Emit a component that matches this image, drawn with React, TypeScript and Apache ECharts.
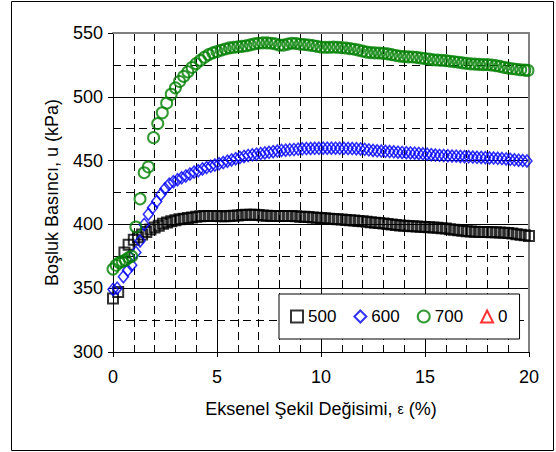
import React, { useEffect, useRef } from "react";
import * as echarts from "echarts";

// ---- Series 500 (kPa) ----
const strain500 = [
  0, 0.25, 0.55, 0.75, 1.0, 1.2, 1.4, 1.6, 1.8, 2.0, 2.2, 2.4, 2.6, 2.8, 3.0, 3.2, 3.4, 3.6, 3.8, 4.0,
  4.2, 4.4, 4.6, 4.8, 5.0, 5.2, 5.4, 5.6, 5.8, 6.0, 6.2, 6.4, 6.6, 6.8, 7.0, 7.2, 7.4, 7.6, 7.8, 8.0,
  8.2, 8.4, 8.6, 8.8, 9.0, 9.2, 9.4, 9.6, 9.8, 10.0, 10.2, 10.4, 10.6, 10.8, 11.0, 11.2, 11.4, 11.6, 11.8, 12.0,
  12.2, 12.4, 12.6, 12.8, 13.0, 13.2, 13.4, 13.6, 13.8, 14.0, 14.2, 14.4, 14.6, 14.8, 15.0, 15.2, 15.4, 15.6, 15.8, 16.0,
  16.2, 16.4, 16.6, 16.8, 17.0, 17.2, 17.4, 17.6, 17.8, 18.0, 18.2, 18.4, 18.6, 18.8, 19.0, 19.2, 19.4, 19.6, 19.8, 20.0,
];
const u500 = [
  342, 347, 378, 384, 388, 390, 392, 394, 396, 397.5, 399, 400.5, 401.5, 402.5, 403.2, 404, 404.5, 405, 405.5, 406,
  406.3, 406.5, 406.5, 406.5, 406.5, 406.3, 406.3, 406.5, 406.8, 407, 407.3, 407.5, 407.6, 407.5, 407.3, 407, 406.8, 406.6, 406.5, 406.5,
  406.5, 406.5, 406.5, 406.3, 406, 406, 405.8, 405.5, 405.2, 405, 404.8, 404.5, 404.2, 404, 403.8, 403.5, 403.3, 403, 402.7, 402.5,
  402, 401.7, 401.3, 401, 400.7, 400.3, 400, 399.6, 399.2, 399, 398.7, 398.5, 398.3, 398.2, 398, 397.8, 397.6, 397.3, 397, 396.7,
  396.2, 395.8, 395.4, 395, 394.7, 394.4, 394.2, 394.1, 394, 394, 393.9, 393.8, 393.6, 393.4, 393.2, 392.8, 392.3, 391.8, 391.4, 391,
];

// ---- Series 600 (kPa) ----
const strain600 = [
  0, 0.2, 0.5, 0.7, 0.9,
  1.1, 1.3, 1.5, 1.7, 1.9, 2.1, 2.3, 2.5, 2.7, 2.9, 3.1, 3.3, 3.5, 3.7, 3.9, 4.1, 4.3, 4.5, 4.7, 4.9,
  5.1, 5.3, 5.5, 5.7, 5.9, 6.1, 6.3, 6.5, 6.7, 6.9, 7.1, 7.3, 7.5, 7.7, 7.9, 8.1, 8.3, 8.5, 8.7, 8.9,
  9.1, 9.3, 9.5, 9.7, 9.9, 10.1, 10.3, 10.5, 10.7, 10.9, 11.1, 11.3, 11.5, 11.7, 11.9, 12.1, 12.3, 12.5, 12.7, 12.9,
  13.1, 13.3, 13.5, 13.7, 13.9, 14.1, 14.3, 14.5, 14.7, 14.9, 15.1, 15.3, 15.5, 15.7, 15.9, 16.1, 16.3, 16.5, 16.7, 16.9,
  17.1, 17.3, 17.5, 17.7, 17.9, 18.1, 18.3, 18.5, 18.7, 18.9, 19.1, 19.3, 19.5, 19.7, 19.9,
];
const u600 = [
  349, 350, 359, 364, 368,
  378, 387, 400, 408, 413, 418, 423.5, 428, 431.5, 433.5, 435, 436.5, 438, 439.5, 441, 442, 443.5, 444.5, 445.5, 446.5,
  447.5, 448.5, 449.5, 450.5, 451.5, 452.5, 453.3, 454, 454.5, 455, 455.5, 456, 456.5, 457, 457.5, 458, 458.2, 458.5, 458.7, 459,
  459.2, 459.4, 459.5, 459.6, 459.6, 459.7, 459.7, 459.7, 459.7, 459.6, 459.6, 459.5, 459.4, 459.3, 459.1, 458.8, 458.4, 458, 457.7, 457.5,
  457.3, 457.1, 456.9, 456.6, 456.4, 456.2, 456, 455.8, 455.6, 455.3, 455, 454.6, 454.3, 454.1, 454, 453.8, 453.6, 453.5, 453.3, 453.1,
  453, 452.8, 452.6, 452.5, 452.3, 452.1, 452, 451.8, 451.6, 451.3, 451, 450.6, 450.3, 450, 449.7,
];

// ---- Series 700 (kPa) ----
const strain700 = [
  0, 0.15, 0.3, 0.45, 0.6, 0.75, 0.9, 1.1, 1.3, 1.5, 1.7, 1.95, 2.15, 2.37, 2.58, 2.8,
  3.0, 3.2, 3.4, 3.6, 3.8, 4.0, 4.2, 4.4, 4.6, 4.8, 5.0, 5.2, 5.4, 5.6, 5.8, 6.0, 6.2, 6.4, 6.6, 6.8,
  7.0, 7.2, 7.4, 7.6, 7.8, 8.0, 8.2, 8.4, 8.6, 8.8, 9.0, 9.2, 9.4, 9.6, 9.8, 10.0, 10.2, 10.4, 10.6, 10.8,
  11.0, 11.2, 11.4, 11.6, 11.8, 12.0, 12.2, 12.4, 12.6, 12.8, 13.0, 13.2, 13.4, 13.6, 13.8, 14.0, 14.2, 14.4, 14.6, 14.8,
  15.0, 15.2, 15.4, 15.6, 15.8, 16.0, 16.2, 16.4, 16.6, 16.8, 17.0, 17.2, 17.4, 17.6, 17.8, 18.0, 18.2, 18.4, 18.6, 18.8,
  19.0, 19.2, 19.4, 19.6, 19.8, 19.95,
];
const u700 = [
  365, 368, 370, 371, 372, 374, 375, 398, 420, 440.5, 445, 468, 479, 487.5, 495, 502,
  507, 512, 516, 519.5, 523, 526, 528.5, 531, 533, 534.5, 535.5, 536.5, 537.5, 538.3, 538.8, 539.2, 539.5, 540, 540.7, 541.5,
  542, 542.3, 542.3, 542, 541.5, 540.5, 540.5, 541.3, 542, 541.8, 541.2, 541, 540.6, 540.2, 539.6, 539, 538.8, 538.8, 539, 538.8,
  538.5, 538.2, 537.8, 537.3, 536.6, 535.8, 535, 534.6, 534.4, 534.3, 534, 533.6, 533, 532.4, 531.8, 531.5, 531.3, 531.2, 530.9, 530.4,
  530, 529.5, 529, 528.8, 528.6, 528.3, 527.9, 527.5, 527.1, 526.6, 526.2, 525.8, 525.6, 525.4, 525.2, 525.2, 524.9, 524.4, 523.8, 523.1,
  522.5, 522, 521.6, 521.2, 520.9, 520.7,
];

// ---- Series 0 (kPa): no data points ----
const strain0: number[] = [];
const u0: number[] = [];

const seriesNames = ["500", "600", "700", "0"];
const xTicks = { min: 0, max: 20, interval: 5 };
const yTicks = { min: 300, max: 550, interval: 50 };

const pairs = (xs: number[], ys: number[]) => xs.map((x, i) => [x, ys[i]]);

export default function App() {
  const ref = useRef<HTMLDivElement>(null);
  useEffect(() => {
    const chart = echarts.init(ref.current!, null, { renderer: "svg" });
    const font = "'Liberation Sans', Arial, sans-serif";
    const dashed = { color: "#000", width: 1, type: [8, 5] as any };
    const hidden = { show: false };
    chart.setOption({
      animation: false,
      backgroundColor: "#fff",
      textStyle: { fontFamily: font, color: "#000" },
      grid: { left: 113, top: 33, width: 416, height: 319, show: false },
      graphic: [
        {
          type: "rect",
          silent: true,
          shape: { x: 11.5, y: 1.5, width: 542, height: 449 },
          style: { fill: "none", stroke: "#000", lineWidth: 1 },
        },
      ],
      legend: {
        left: 279,
        top: 294,
        padding: [14, 12, 14, 11],
        itemGap: 17,
        itemWidth: 12,
        itemHeight: 12,
        backgroundColor: "#fff",
        borderColor: "#000",
        borderWidth: 1,
        borderRadius: 0,
        selectedMode: false,
        textStyle: { fontFamily: font, fontSize: 17, color: "#000" },
        data: seriesNames,
      },
      xAxis: [
        {
          type: "value",
          min: xTicks.min,
          max: xTicks.max,
          interval: xTicks.interval,
          name: "Eksenel Şekil Değisimi, {e|ε} (%)",
          nameLocation: "middle",
          nameGap: 48,
          nameTextStyle: {
            fontFamily: font,
            fontSize: 18,
            color: "#000",
            rich: { e: { fontFamily: font, fontSize: 14, color: "#000" } },
          },
          axisLine: { show: true, onZero: false, lineStyle: { color: "#000", width: 1 } },
          axisTick: { show: true, length: 5, inside: false, lineStyle: { color: "#000" } },
          axisLabel: { margin: 16, fontSize: 18, color: "#000", fontFamily: font },
          splitLine: { show: true, lineStyle: { color: "#000", width: 1 } },
          minorTick: { show: false, splitNumber: 5 },
          minorSplitLine: { show: true, lineStyle: dashed },
        },
        {
          type: "value",
          position: "top",
          min: xTicks.min,
          max: xTicks.max,
          axisLine: { show: true, onZero: false, lineStyle: { color: "#808080", width: 2 } },
          axisTick: hidden,
          axisLabel: hidden,
          splitLine: hidden,
        },
      ],
      yAxis: [
        {
          type: "value",
          min: yTicks.min,
          max: yTicks.max,
          interval: yTicks.interval,
          name: "Boşluk Basıncı, u (kPa)",
          nameLocation: "middle",
          nameGap: 52,
          nameTextStyle: { fontFamily: font, fontSize: 18, color: "#000" },
          axisLine: { show: true, onZero: false, lineStyle: { color: "#000", width: 1 } },
          axisTick: { show: true, length: 5, inside: false, lineStyle: { color: "#000" } },
          axisLabel: { margin: 10, fontSize: 18, color: "#000", fontFamily: font },
          splitLine: { show: true, lineStyle: { color: "#000", width: 1 } },
          minorTick: { show: false, splitNumber: 2 },
          minorSplitLine: { show: true, lineStyle: dashed },
        },
        {
          type: "value",
          position: "right",
          min: yTicks.min,
          max: yTicks.max,
          axisLine: { show: true, onZero: false, lineStyle: { color: "#808080", width: 2 } },
          axisTick: hidden,
          axisLabel: hidden,
          splitLine: hidden,
        },
      ],
      series: [
        {
          name: seriesNames[0],
          type: "scatter",
          symbol: "rect",
          symbolSize: 10,
          silent: true,
          itemStyle: { color: "rgba(0,0,0,0)", borderColor: "#000", borderWidth: 2 },
          data: pairs(strain500, u500),
        },
        {
          name: seriesNames[1],
          type: "scatter",
          symbol: "diamond",
          symbolSize: [10, 12],
          silent: true,
          itemStyle: { color: "rgba(0,0,0,0)", borderColor: "#0000ff", borderWidth: 1.6 },
          data: pairs(strain600, u600),
        },
        {
          name: seriesNames[2],
          type: "scatter",
          symbol: "circle",
          symbolSize: 11,
          silent: true,
          itemStyle: { color: "rgba(0,0,0,0)", borderColor: "#008000", borderWidth: 2 },
          data: pairs(strain700, u700),
        },
        {
          name: seriesNames[3],
          type: "scatter",
          symbol: "triangle",
          symbolSize: 11,
          silent: true,
          itemStyle: { color: "rgba(0,0,0,0)", borderColor: "#ff0000", borderWidth: 2 },
          data: pairs(strain0, u0),
        },
      ],
    });
    return () => chart.dispose();
  }, []);
  return (
    <div
      ref={ref}
      style={{ position: "fixed", left: 0, top: 0, width: 556, height: 452, background: "#fff" }}
    />
  );
}
